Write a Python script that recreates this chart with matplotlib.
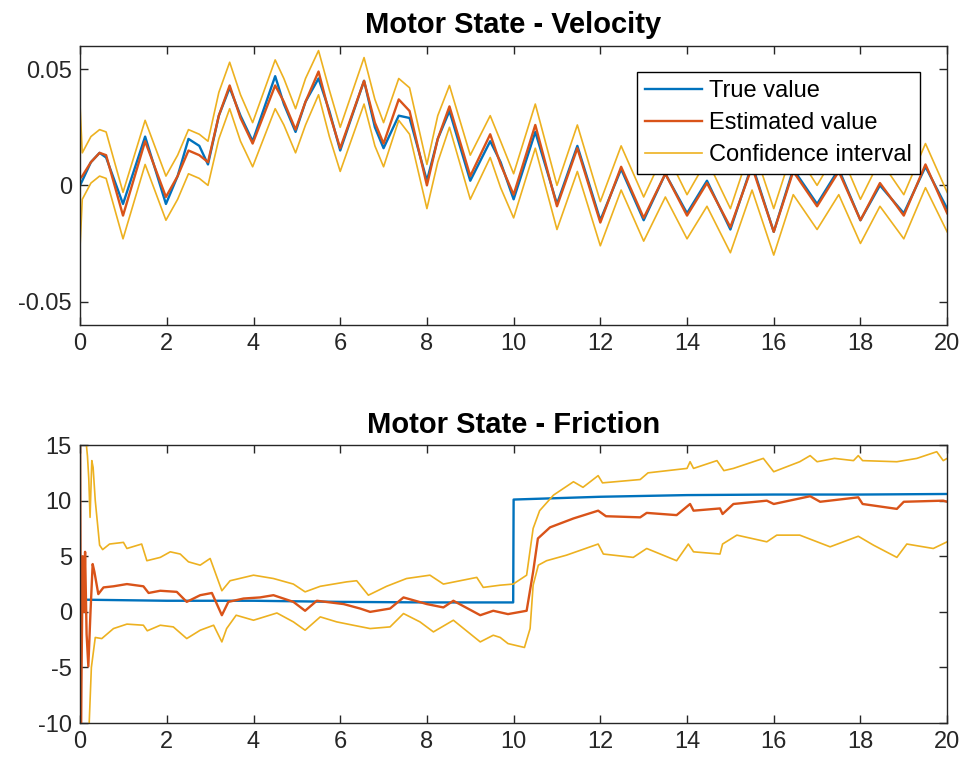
import matplotlib
matplotlib.use('Agg')
import matplotlib.pyplot as plt

plt.rcParams['font.family'] = ['Liberation Sans', 'DejaVu Sans']
plt.rcParams['axes.unicode_minus'] = False

# velocity: time knots (s) and values
vel_t = [0.0, 0.05, 0.25, 0.45, 0.6, 0.99, 1.5, 1.98, 2.25, 2.5,
         2.75, 2.95, 3.2, 3.45, 3.7, 3.98, 4.5, 4.7, 4.97, 5.2,
         5.5, 5.75, 6.0, 6.55, 6.8, 7.0, 7.35, 7.6, 8.0, 8.25,
         8.52, 9.0, 9.46, 9.7, 10.0, 10.5, 11.0, 11.47, 12.0, 12.48,
         13.0, 13.5, 14.0, 14.46, 15.0, 15.5, 16.0, 16.45, 17.0, 17.5,
         18.0, 18.45, 19.0, 19.5, 20.0]
vel_true = [0.000, 0.002, 0.010, 0.014, 0.012, -0.008, 0.021, -0.008, 0.004, 0.020,
            0.017, 0.009, 0.030, 0.042, 0.030, 0.019, 0.047, 0.035, 0.023, 0.036,
            0.046, 0.032, 0.015, 0.045, 0.025, 0.016, 0.030, 0.029, 0.002, 0.020,
            0.032, 0.002, 0.019, 0.010, -0.006, 0.023, -0.008, 0.017, -0.015, 0.007,
            -0.015, 0.005, -0.012, 0.002, -0.019, 0.009, -0.020, 0.007, -0.008, 0.007,
            -0.015, 0.000, -0.012, 0.008, -0.010]
vel_est = [0.003, 0.004, 0.010, 0.014, 0.013, -0.013, 0.019, -0.005, 0.004, 0.015,
           0.013, 0.010, 0.030, 0.043, 0.029, 0.018, 0.043, 0.036, 0.024, 0.036,
           0.049, 0.031, 0.016, 0.045, 0.027, 0.018, 0.037, 0.032, 0.000, 0.020,
           0.034, 0.004, 0.022, 0.009, -0.004, 0.026, -0.009, 0.016, -0.016, 0.008,
           -0.014, 0.005, -0.013, 0.001, -0.018, 0.008, -0.020, 0.006, -0.009, 0.006,
           -0.015, 0.001, -0.013, 0.009, -0.012]
vel_upper = [0.034, 0.014, 0.021, 0.024, 0.023, -0.003, 0.028, 0.004, 0.013, 0.024,
             0.022, 0.019, 0.040, 0.053, 0.039, 0.027, 0.054, 0.046, 0.033, 0.046,
             0.058, 0.041, 0.025, 0.055, 0.037, 0.027, 0.046, 0.042, 0.009, 0.030,
             0.043, 0.013, 0.030, 0.019, 0.005, 0.035, 0.000, 0.026, -0.007, 0.017,
             -0.005, 0.015, -0.004, 0.011, -0.010, 0.018, -0.010, 0.016, 0.000, 0.016,
             -0.006, 0.011, -0.004, 0.018, -0.003]
vel_lower = [-0.026, -0.006, 0.001, 0.004, 0.003, -0.023, 0.009, -0.015, -0.006, 0.005,
             0.003, 0.000, 0.020, 0.033, 0.019, 0.008, 0.033, 0.026, 0.014, 0.026,
             0.039, 0.021, 0.006, 0.035, 0.017, 0.008, 0.028, 0.022, -0.010, 0.010,
             0.025, -0.006, 0.012, -0.001, -0.014, 0.016, -0.019, 0.006, -0.026, -0.002,
             -0.024, -0.005, -0.023, -0.009, -0.029, -0.002, -0.030, -0.004, -0.019, -0.004,
             -0.025, -0.009, -0.023, -0.001, -0.020]

# friction
fric_true_t = [0.0, 2.0, 4.0, 6.0, 8.0, 9.99, 10.0, 12.0, 14.0, 16.0, 18.0, 20.0]
fric_true = [1.1, 1.0, 1.0, 0.9, 0.85, 0.85, 10.1, 10.35, 10.5, 10.55, 10.55, 10.6]

fric_est_t = [0.0, 0.02, 0.06, 0.09, 0.115, 0.15, 0.19, 0.24, 0.29, 0.33,
              0.42, 0.54, 0.77, 1.08, 1.46, 1.58, 1.85, 2.23, 2.46, 2.77,
              3.04, 3.27, 3.42, 3.77, 4.15, 4.46, 4.92, 5.19, 5.46, 6.08,
              6.46, 6.69, 7.15, 7.46, 8.0, 8.38, 8.61, 9.23, 9.53, 9.87,
              10.3, 10.45, 10.56, 10.84, 11.38, 11.95, 12.13, 12.92, 13.07, 13.76,
              14.07, 14.15, 14.76, 14.82, 15.07, 15.84, 16.0, 16.84, 17.07, 17.95,
              18.05, 18.84, 19.0, 19.91, 20.0]
fric_est = [16.0, -11.0, 5.0, 0.0, 5.4, -2.0, -4.9, 0.0, 4.3, 3.6,
            1.6, 2.2, 2.3, 2.5, 2.3, 1.7, 1.9, 1.8, 0.9, 1.5,
            1.7, -0.3, 0.9, 1.2, 1.3, 1.5, 0.9, 0.1, 1.0, 0.7,
            0.3, 0.0, 0.3, 1.3, 0.7, 0.4, 1.0, -0.3, 0.1, -0.2,
            0.1, 3.6, 6.6, 7.6, 8.4, 9.1, 8.6, 8.5, 8.9, 8.7,
            9.7, 9.1, 9.3, 8.8, 9.7, 10.0, 9.7, 10.4, 9.9, 10.3,
            9.7, 9.26, 9.9, 10.0, 9.9]

fric_up_t = [0.0, 0.12, 0.17, 0.2, 0.23, 0.27, 0.3, 0.35, 0.45, 0.52,
             0.68, 1.0, 1.08, 1.42, 1.54, 1.85, 2.08, 2.31, 2.5, 2.77,
             3.0, 3.27, 3.46, 4.0, 4.46, 4.92, 5.19, 5.54, 6.15, 6.38,
             6.65, 7.07, 7.53, 8.07, 8.38, 9.15, 9.3, 9.69, 9.99, 10.3,
             10.45, 10.6, 10.92, 11.38, 11.6, 11.95, 12.05, 12.92, 13.1, 14.0,
             14.07, 14.15, 14.69, 14.85, 15.07, 15.76, 16.0, 16.6, 16.84, 17.0,
             17.4, 17.84, 17.95, 18.05, 18.84, 19.3, 19.76, 19.91, 20.0]
fric_up = [30.0, 16.0, 14.0, 12.0, 8.5, 13.6, 13.0, 10.0, 6.0, 5.6,
           6.1, 6.25, 5.7, 6.1, 4.6, 4.9, 5.4, 5.2, 4.5, 4.2,
           4.8, 1.9, 2.8, 3.3, 3.0, 2.5, 1.8, 2.3, 2.7, 2.8,
           1.5, 2.3, 3.0, 3.3, 2.5, 3.1, 2.2, 2.4, 2.5, 3.3,
           7.5, 9.1, 10.5, 11.7, 11.2, 12.25, 11.6, 11.9, 12.5, 12.9,
           13.5, 12.9, 13.6, 12.7, 12.9, 13.8, 12.6, 13.5, 14.05, 13.5,
           13.8, 13.6, 14.05, 13.6, 13.5, 13.8, 14.4, 13.6, 13.8]

fric_lo_t = [0.0, 0.2, 0.26, 0.35, 0.5, 0.77, 1.08, 1.46, 1.55, 1.85,
             2.15, 2.46, 2.77, 3.08, 3.27, 3.38, 3.6, 4.0, 4.54, 4.92,
             5.19, 5.54, 5.92, 6.3, 6.69, 7.15, 7.46, 7.84, 8.15, 8.61,
             9.23, 9.53, 9.69, 9.87, 10.25, 10.38, 10.45, 10.57, 10.76, 11.22,
             11.95, 12.07, 12.76, 13.07, 13.76, 14.03, 14.15, 14.76, 14.82, 15.15,
             15.84, 16.07, 16.6, 17.3, 17.95, 18.3, 18.84, 19.07, 19.68, 20.0]
fric_lo = [-30.0, -11.0, -5.0, -2.3, -2.4, -1.5, -1.1, -1.2, -1.7, -1.2,
           -1.35, -2.4, -1.65, -1.2, -2.7, -1.5, -0.3, -0.75, -0.1, -0.9,
           -1.65, -0.45, -0.9, -1.2, -1.5, -1.35, -0.15, -0.9, -1.8, -0.75,
           -2.7, -2.1, -2.3, -2.85, -3.2, -1.5, 2.4, 4.2, 4.6, 5.1,
           6.1, 5.2, 4.9, 5.7, 4.6, 6.1, 5.4, 5.2, 6.1, 6.9,
           6.3, 6.9, 6.9, 5.85, 6.8, 6.0, 4.9, 6.1, 5.7, 6.3]

x_ticks = [0, 2, 4, 6, 8, 10, 12, 14, 16, 18, 20]
vel_ticks = [-0.05, 0, 0.05]
vel_tick_labels = ['-0.05', '0', '0.05']
fric_ticks = [-10, -5, 0, 5, 10, 15]

blue = '#0072BD'
red = '#D95319'
yellow = '#EDB120'
dark = '#262626'

fig = plt.figure(figsize=(9.65, 7.66), dpi=100)


def style_axes(ax):
    for s in ax.spines.values():
        s.set_color(dark)
        s.set_linewidth(1.0)
    ax.tick_params(direction='in', top=True, right=True, length=6,
                   width=1.0, colors=dark, labelsize=17, pad=6)
    ax.set_xlim(0, 20)
    ax.set_xticks(x_ticks)


ax1 = fig.add_axes([0.083, 0.576, 0.8985, 0.364])
ax1.plot(vel_t, vel_true, color=blue, lw=1.7, label='True value')
ax1.plot(vel_t, vel_est, color=red, lw=1.7, label='Estimated value')
ax1.plot(vel_t, vel_upper, color=yellow, lw=1.2, label='Confidence interval')
ax1.plot(vel_t, vel_lower, color=yellow, lw=1.2)
style_axes(ax1)
ax1.set_ylim(-0.06, 0.06)
ax1.set_yticks(vel_ticks)
ax1.set_yticklabels(vel_tick_labels)
ax1.set_title('Motor State - Velocity', fontsize=21, fontweight='bold', pad=9)
leg = ax1.legend(loc='upper right', bbox_to_anchor=(0.969, 0.907), fontsize=17,
                 fancybox=False, framealpha=1, edgecolor='black',
                 handlelength=2.4, handletextpad=0.3, borderpad=0.35,
                 labelspacing=0.42, borderaxespad=0)
leg.get_frame().set_linewidth(1.0)

ax2 = fig.add_axes([0.083, 0.056, 0.8985, 0.363])
ax2.plot(fric_true_t, fric_true, color=blue, lw=1.7)
ax2.plot(fric_est_t, fric_est, color=red, lw=1.7)
ax2.plot(fric_up_t, fric_up, color=yellow, lw=1.2)
ax2.plot(fric_lo_t, fric_lo, color=yellow, lw=1.2)
style_axes(ax2)
ax2.set_ylim(-10, 15)
ax2.set_yticks(fric_ticks)
ax2.set_title('Motor State - Friction', fontsize=21, fontweight='bold', pad=9)

fig.savefig('out.png', dpi=100)
